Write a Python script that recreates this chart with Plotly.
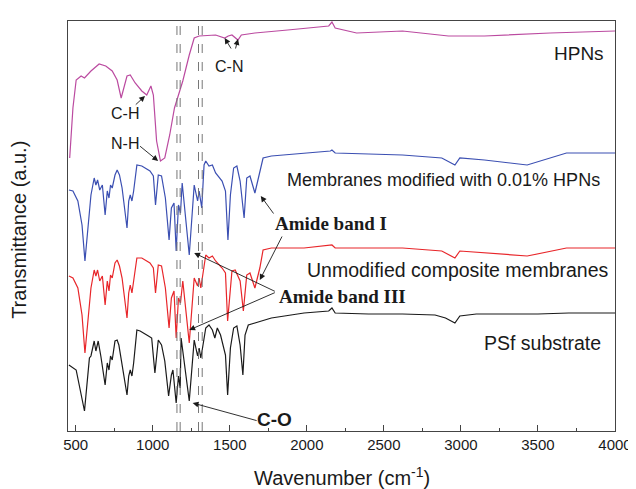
import plotly.graph_objects as go

# ---- data (wavenumber cm-1, transmittance a.u. with offsets) ----
psf_wn = [456, 503, 557, 589, 599, 620, 631, 646, 663, 691, 705, 716, 726, 737, 755, 769, 780, 801,
          833, 844, 854, 865, 876, 897, 918, 972, 993, 1014, 1036, 1057, 1078, 1103, 1121, 1131, 1152,
          1167, 1178, 1184, 1237, 1269, 1291, 1301, 1312, 1323, 1344, 1365, 1387, 1403, 1419, 1440,
          1472, 1486, 1504, 1525, 1546, 1567, 1585, 1599, 1620, 1663, 1706, 1770, 1855, 1982, 2142,
          2163, 2184, 2400, 2621, 2832, 2900, 2961, 2993, 3100, 3259, 3500, 3700, 4000]
psf_t = [66, 61, 20, 73, 75, 90, 80, 90, 75, 46, 68, 61, 75, 71, 90, 91, 86, 66,
         36, 55, 61, 55, 68, 101, 100, 95, 93, 58, 91, 86, 70, 35, 56, 61, 28,
         55, 43, 93, 30, 91, 75, 83, 73, 83, 103, 106, 101, 93, 103, 96,
         76, 36, 83, 103, 105, 86, 56, 96, 106, 108, 110, 113, 115, 118, 120,
         123, 118, 117, 117, 116, 113, 108, 115, 117, 117, 117, 118, 118]

unmod_wn = [456, 482, 514, 541, 560, 578, 599, 620, 631, 642, 656, 673, 691, 705, 716, 726, 737, 755,
            769, 784, 801, 833, 844, 854, 865, 876, 897, 929, 982, 1004, 1018, 1036, 1057, 1082, 1106,
            1121, 1138, 1152, 1167, 1180, 1195, 1237, 1269, 1291, 1301, 1312, 1344, 1365, 1387, 1408,
            1450, 1472, 1486, 1514, 1535, 1567, 1588, 1610, 1631, 1663, 1695, 1716, 1770, 1982, 2153,
            2163, 2184, 2621, 2876, 2961, 2993, 3153, 3430, 3685, 4000]
unmod_t = [155, 153, 143, 116, 78, 110, 143, 161, 155, 161, 150, 155, 126, 150, 140, 156, 153, 168,
           171, 165, 153, 113, 138, 146, 138, 150, 173, 173, 168, 163, 138, 166, 165, 143, 103,
           133, 140, 93, 133, 128, 150, 88, 153, 145, 153, 143, 176, 173, 175, 170,
           163, 158, 110, 160, 161, 150, 120, 156, 158, 143, 163, 181, 183, 183, 186,
           186, 183, 183, 180, 173, 180, 178, 175, 183, 183]

mod_wn = [456, 482, 514, 541, 560, 578, 599, 620, 631, 642, 656, 673, 691, 705, 716, 726, 737, 755,
          769, 784, 801, 833, 844, 854, 865, 876, 897, 929, 982, 1004, 1018, 1036, 1057, 1082, 1106,
          1121, 1138, 1152, 1167, 1180, 1191, 1237, 1269, 1291, 1301, 1318, 1333, 1344, 1365, 1387,
          1408, 1450, 1472, 1488, 1504, 1525, 1546, 1567, 1593, 1610, 1631, 1663, 1695, 1716, 1770,
          1982, 2153, 2163, 2184, 2621, 2876, 2961, 2993, 3153, 3430, 3685, 4000]
mod_t = [241, 240, 230, 206, 170, 200, 236, 253, 246, 251, 241, 246, 216, 240, 233, 246, 243, 256,
         261, 256, 243, 203, 230, 236, 230, 240, 266, 265, 260, 255, 226, 256, 255, 233, 191,
         223, 228, 180, 226, 218, 248, 176, 246, 230, 240, 223, 266, 270, 265, 266,
         258, 250, 240, 191, 236, 263, 265, 250, 213, 253, 255, 238, 260, 273, 275,
         278, 280, 281, 278, 276, 273, 266, 273, 271, 266, 278, 278]

hpn_wn = [461, 482, 503, 535, 557, 599, 652, 695, 737, 769, 795, 812, 833, 854, 886, 929, 961, 988,
          1004, 1025, 1050, 1078, 1110, 1141, 1163, 1195, 1237, 1269, 1301, 1408, 1467, 1490, 1514,
          1553, 1575, 1663, 1876, 2089, 2142, 2163, 2184, 2323, 2621, 2919, 3153, 3579, 4000]
hpn_t = [273, 323, 351, 355, 353, 360, 367, 365, 360, 351, 333, 343, 355, 356, 348, 340, 336, 345,
         336, 290, 270, 273, 296, 323, 335, 350, 376, 393, 395, 396, 393, 395, 396,
         391, 396, 398, 401, 404, 405, 409, 403, 398, 400, 395, 395, 398, 400]

dashed_wn = [1157, 1178, 1297, 1321]
x_ticks = [500, 1000, 1500, 2000, 2500, 3000, 3500, 4000]

series = [
    ("PSf substrate", psf_wn, psf_t, "#1a1a1a"),
    ("Unmodified composite membranes", unmod_wn, unmod_t, "#e8262a"),
    ("Membranes modified with 0.01% HPNs", mod_wn, mod_t, "#3b4fb2"),
    ("HPNs", hpn_wn, hpn_t, "#bb4aa0"),
]

fig = go.Figure()
for name, xs, ys, col in series:
    fig.add_trace(go.Scatter(x=xs, y=ys, mode="lines", name=name,
                             line=dict(color=col, width=1.2), showlegend=False))

for wn in dashed_wn:
    fig.add_shape(type="line", xref="x", yref="paper", x0=wn, x1=wn, y0=0, y1=1,
                  line=dict(color="#777777", width=1, dash="dash"))

SANS = "Liberation Sans, Arial, sans-serif"
SERIF = "Liberation Serif, Times New Roman, serif"
TXT = "#1a1a1a"

ann = []
# curve labels
ann.append(dict(x=3943, y=378, text="HPNs", xanchor="right", font=dict(size=19, family=SANS, color=TXT)))
ann.append(dict(x=3917, y=251, text="Membranes modified with 0.01% HPNs", xanchor="right",
                font=dict(size=18, family=SANS, color=TXT)))
ann.append(dict(x=3974, y=161, text="Unmodified composite membranes", xanchor="right",
                font=dict(size=19.5, family=SANS, color=TXT)))
ann.append(dict(x=3923, y=88, text="PSf substrate", xanchor="right", font=dict(size=19.5, family=SANS, color=TXT)))
ann.append(dict(x=2155, y=208, text="<b>Amide band I</b>", xanchor="center", font=dict(size=19, family=SERIF, color=TXT)))
ann.append(dict(x=2231, y=135, text="<b>Amide band III</b>", xanchor="center", font=dict(size=19, family=SERIF, color=TXT)))
ann.append(dict(x=1791, y=12, text="<b>C-O</b>", xanchor="center", font=dict(size=19, family=SANS, color=TXT)))
ann.append(dict(x=820, y=318, text="C-H", xanchor="center", font=dict(size=16, family=SANS, color=TXT)))
ann.append(dict(x=817, y=288, text="N-H", xanchor="center", font=dict(size=16, family=SANS, color=TXT)))
ann.append(dict(x=1497, y=365, text="C-N", xanchor="center", font=dict(size=16, family=SANS, color=TXT)))
for a in ann:
    a.update(xref="x", yref="y", showarrow=False, yanchor="middle")

# arrows: (head_x, head_y, tail_x, tail_y)
arrows = [
    (950, 335, 880, 325),
    (1035, 270, 908, 286),
    (1467, 393, 1514, 381),
    (1553, 392, 1535, 381),
    (1701, 235, 1791, 216),
    (1695, 151, 1844, 196),
    (1269, 178, 1802, 139),
    (1237, 101, 1802, 139),
    (1259, 28, 1684, 10),
]
for hx, hy, tx, ty in arrows:
    ann.append(dict(x=hx, y=hy, ax=tx, ay=ty, xref="x", yref="y", axref="x", ayref="y",
                    text="", showarrow=True, arrowhead=2, arrowsize=1.3, arrowwidth=0.9,
                    arrowcolor="#1a1a1a", standoff=0, startstandoff=0))

# axis titles
ann.append(dict(x=0.5, y=-0.146, xref="paper", yref="paper", showarrow=False,
                xanchor="center", yanchor="bottom",
                text="Wavenumber (cm<sup>-1</sup>)", font=dict(size=20, family=SANS, color=TXT)))
ann.append(dict(x=-0.09, y=0.49, xref="paper", yref="paper", showarrow=False, textangle=-90,
                xanchor="center", yanchor="middle",
                text="Transmittance (a.u.)", font=dict(size=20, family=SANS, color=TXT)))

fig.update_layout(
    width=636, height=489,
    margin=dict(l=60, r=20, t=13, b=66),
    paper_bgcolor="white", plot_bgcolor="white",
    annotations=ann,
    xaxis=dict(range=[450, 4000], tickvals=x_ticks, ticks="inside", ticklen=6, tickwidth=1,
               tickcolor="#444", showline=True, linecolor="#444", linewidth=1, mirror=True,
               showgrid=False, zeroline=False,
               tickfont=dict(size=15, family=SANS, color=TXT),
               minor=dict(dtick=250, tick0=0, ticks="inside", ticklen=3, tickcolor="#444", showgrid=False)),
    yaxis=dict(range=[0, 410], showticklabels=False, ticks="", showline=True, linecolor="#444",
               linewidth=1, mirror=True, showgrid=False, zeroline=False),
)

fig.write_html("out.html")
